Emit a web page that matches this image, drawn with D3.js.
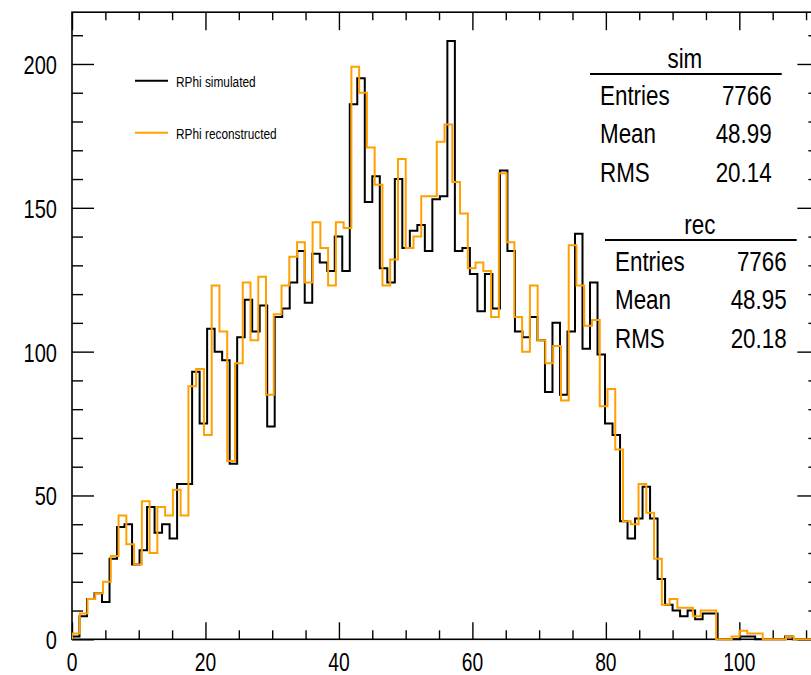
<!DOCTYPE html>
<html>
<head>
<meta charset="utf-8">
<script src="https://cdn.jsdelivr.net/npm/d3@7"></script>
<style>
  body { margin: 0; background: #fff; }
  svg { display: block; font-family: "Liberation Sans", Arial, Helvetica, sans-serif; }
</style>
</head>
<body>
<svg></svg>
<script>
const width = 811;
const height = 675;

// histogramme simulé (noir)
const simBinWidth = 1.125;
const simCounts = [
  1, 8, 14, 16, 13, 28, 39, 40, 26, 31,
  46, 37, 40, 35, 54, 54, 93, 75, 108, 100,
  97, 61, 105, 118, 107, 116, 74, 112, 115, 124,
  135, 117, 134, 131, 128, 140, 128, 186, 195, 152,
  161, 129, 124, 160, 136, 142, 144, 135, 153, 154,
  208, 135, 136, 127, 114, 127, 115, 163, 135, 107,
  105, 112, 104, 86, 110, 85, 107, 141, 101, 124,
  99, 75, 71, 41, 35, 42, 53, 42, 21, 12,
  10, 8, 10, 7, 9, 9, 0, 0, 0, 1,
  1, 0, 0, 0, 0, 1, 0, 0, 0, 0
];

// histogramme reconstruit (orange)
const recBinWidth = 1.163;
const recCounts = [
  2, 9, 14, 16, 20, 29, 43, 33, 26, 48,
  30, 46, 43, 52, 43, 88, 94, 71, 123, 107,
  62, 96, 124, 104, 126, 85, 113, 123, 133, 138,
  124, 145, 136, 123, 145, 143, 199, 190, 171, 158,
  123, 132, 167, 136, 140, 154, 154, 173, 179, 159,
  148, 129, 131, 128, 112, 162, 138, 112, 100, 123,
  104, 96, 102, 83, 137, 123, 109, 111, 81, 87,
  66, 41, 40, 54, 44, 28, 12, 14, 11, 11,
  8, 10, 10, 0, 0, 1, 3, 2, 2, 0,
  0, 0, 1, 0, 0, 0, 0, 0, 0, 0
];

const xTicks = [0, 20, 40, 60, 80, 100];
const yTicks = [0, 50, 100, 150, 200];
const legendLabels = ["RPhi simulated", "RPhi reconstructed"];
const statNames = ["Entries", "Mean", "RMS"];
const simStats = ["7766", "48.99", "20.14"];
const recStats = ["7766", "48.95", "20.18"];

const colSim = "#000";
const colRec = "#ffa000";
const squeeze = 0.77; // le texte est un peu écrasé horizontalement

const x = d3.scaleLinear().domain([0, 112]).range([72, 819.4]);
const y = d3.scaleLinear().domain([0, 218]).range([639.3, 12.2]);

const svg = d3.select("svg")
    .attr("width", width)
    .attr("height", height)
    .attr("viewBox", [0, 0, width, height]);

svg.append("clipPath").attr("id", "plot")
  .append("rect")
    .attr("x", x(0)).attr("y", y(218) - 1)
    .attr("width", x(112) - x(0)).attr("height", y(0) - y(218) + 3);

// Axes : graduations sur les 4 côtés
const xMinor = d3.range(0, 112, 5).filter(d => d % 20 !== 0);
const yMinor = d3.range(0, 218, 10).filter(d => d % 50 !== 0);

function ticks(axis, tr) {
  svg.append("g")
      .attr("transform", tr)
      .call(axis.tickFormat(""))
      .call(g => g.select(".domain").remove())
      .call(g => g.selectAll("line").attr("stroke", "#000").attr("stroke-width", 1.4));
}
ticks(d3.axisBottom(x).tickValues(xMinor).tickSize(-9), `translate(0,${y(0)})`);
ticks(d3.axisBottom(x).tickValues(xTicks).tickSize(-17), `translate(0,${y(0)})`);
ticks(d3.axisTop(x).tickValues(xMinor).tickSize(-8), `translate(0,${y(218)})`);
ticks(d3.axisTop(x).tickValues(xTicks).tickSize(-18), `translate(0,${y(218)})`);
ticks(d3.axisLeft(y).tickValues(yMinor).tickSize(-11), `translate(${x(0)},0)`);
ticks(d3.axisLeft(y).tickValues(yTicks).tickSize(-22), `translate(${x(0)},0)`);
ticks(d3.axisRight(y).tickValues(yMinor).tickSize(-11), `translate(${x(112)},0)`);
ticks(d3.axisRight(y).tickValues(yTicks).tickSize(-22), `translate(${x(112)},0)`);

// cadre
svg.append("rect")
    .attr("x", x(0)).attr("y", y(218))
    .attr("width", x(112) - x(0)).attr("height", y(0) - y(218))
    .attr("fill", "none")
    .attr("stroke", "#000")
    .attr("stroke-width", 1.6);

// labels des axes
svg.append("g")
  .selectAll("text")
  .data(yTicks)
  .join("text")
    .attr("transform", d => `translate(57,${y(d) + 10}) scale(${squeeze},1)`)
    .attr("text-anchor", "end")
    .attr("font-size", 26)
    .text(d => d);

svg.append("g")
  .selectAll("text")
  .data(xTicks)
  .join("text")
    .attr("transform", d => `translate(${x(d)},671) scale(${squeeze},1)`)
    .attr("text-anchor", "middle")
    .attr("font-size", 25)
    .text(d => d);

// histogrammes en escalier
function stepPoints(counts, w) {
  const pts = [[0, 0]];
  counts.forEach((v, i) => pts.push([i * w, v]));
  pts.push([counts.length * w, counts[counts.length - 1]]);
  return pts;
}
const line = d3.line()
    .x(d => x(d[0]))
    .y(d => y(d[1]))
    .curve(d3.curveStepAfter);

const hg = svg.append("g").attr("clip-path", "url(#plot)");
hg.append("path")
    .attr("d", line(stepPoints(simCounts, simBinWidth)))
    .attr("fill", "none")
    .attr("stroke", colSim)
    .attr("stroke-width", 2);
hg.append("path")
    .attr("d", line(stepPoints(recCounts, recBinWidth)))
    .attr("fill", "none")
    .attr("stroke", colRec)
    .attr("stroke-width", 2);

// légende
const legend = svg.append("g")
  .selectAll("g")
  .data(legendLabels)
  .join("g")
    .attr("transform", (d, i) => `translate(0,${80.7 + i * 52})`);
legend.append("line")
    .attr("x1", 135).attr("x2", 168)
    .attr("stroke", (d, i) => i === 0 ? colSim : colRec)
    .attr("stroke-width", 2);
legend.append("text")
    .attr("transform", `translate(176,6) scale(0.79,1)`)
    .attr("font-size", 15)
    .text(d => d);

// boîtes de stats
const boxes = [
  { title: "sim", vals: simStats, left: 590, right: 781.7, top: 0 },
  { title: "rec", vals: recStats, left: 605, right: 796.7, top: 166 }
];
boxes.forEach(b => {
  const g = svg.append("g").attr("transform", `translate(0,${b.top})`);
  g.append("text")
      .attr("transform", `translate(${(b.left + b.right) / 2 - 1},68) scale(0.8,1)`)
      .attr("text-anchor", "middle")
      .attr("font-size", 28)
      .text(b.title);
  g.append("line")
      .attr("x1", b.left).attr("x2", b.right)
      .attr("y1", 74).attr("y2", 74)
      .attr("stroke", "#000")
      .attr("stroke-width", 2);
  g.selectAll("text.name")
    .data(statNames)
    .join("text")
      .attr("class", "name")
      .attr("transform", (d, i) => `translate(${b.left + 10},${105 + i * 38.3}) scale(0.8,1)`)
      .attr("font-size", 28)
      .text(d => d);
  g.selectAll("text.val")
    .data(b.vals)
    .join("text")
      .attr("class", "val")
      .attr("transform", (d, i) => `translate(${b.right - 10},${105 + i * 38.3}) scale(0.8,1)`)
      .attr("text-anchor", "end")
      .attr("font-size", 28)
      .text(d => d);
});
</script>
</body>
</html>
